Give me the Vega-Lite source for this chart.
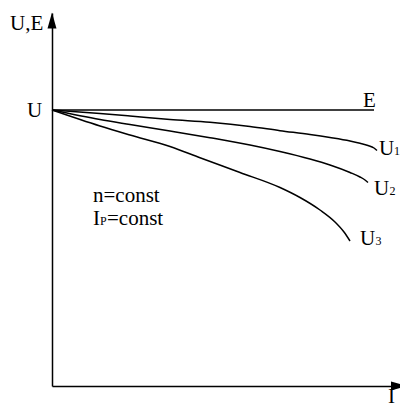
{
  "$schema": "https://vega.github.io/schema/vega-lite/v6.json",
  "width": 348,
  "height": 373,
  "autosize": "none",
  "padding": {"left": 52, "top": 13, "right": 0, "bottom": 23},
  "background": "white",
  "config": {"view": {"stroke": null}, "font": "Liberation Serif, Times New Roman, serif", "text": {"font": "Liberation Serif, Times New Roman, serif"}},
  "datasets": {
    "curves": [
      {"series": "E", "I": 0, "V": 276}, {"series": "E", "I": 322, "V": 276},
      {"series": "U1", "I": 0, "V": 276}, {"series": "U1", "I": 48, "V": 272.5}, {"series": "U1", "I": 78, "V": 270}, {"series": "U1", "I": 118, "V": 266.5}, {"series": "U1", "I": 158, "V": 263.7}, {"series": "U1", "I": 198, "V": 259.5}, {"series": "U1", "I": 228, "V": 255.3}, {"series": "U1", "I": 258, "V": 251.5}, {"series": "U1", "I": 278, "V": 248.5}, {"series": "U1", "I": 298, "V": 245}, {"series": "U1", "I": 308, "V": 242.7}, {"series": "U1", "I": 316, "V": 240.5}, {"series": "U1", "I": 322, "V": 238}, {"series": "U1", "I": 325, "V": 235.5},
      {"series": "U2", "I": 0, "V": 276}, {"series": "U2", "I": 48, "V": 266.5}, {"series": "U2", "I": 78, "V": 261.5}, {"series": "U2", "I": 118, "V": 255}, {"series": "U2", "I": 158, "V": 248.3}, {"series": "U2", "I": 198, "V": 241}, {"series": "U2", "I": 228, "V": 234.5}, {"series": "U2", "I": 258, "V": 227}, {"series": "U2", "I": 278, "V": 221}, {"series": "U2", "I": 298, "V": 213.5}, {"series": "U2", "I": 308, "V": 209}, {"series": "U2", "I": 313, "V": 206}, {"series": "U2", "I": 316, "V": 203.5},
      {"series": "U3", "I": 0, "V": 276}, {"series": "U3", "I": 48, "V": 260}, {"series": "U3", "I": 78, "V": 251}, {"series": "U3", "I": 118, "V": 239.5}, {"series": "U3", "I": 148, "V": 228.3}, {"series": "U3", "I": 188, "V": 213.5}, {"series": "U3", "I": 228, "V": 198.5}, {"series": "U3", "I": 248, "V": 188.5}, {"series": "U3", "I": 268, "V": 176}, {"series": "U3", "I": 283, "V": 164}, {"series": "U3", "I": 292, "V": 154}, {"series": "U3", "I": 298, "V": 145}
    ],
    "arrows": [
      {"dir": "up", "I": 0, "V": 365.5},
      {"dir": "right", "I": 347, "V": 0}
    ],
    "labels": [
      {"text": "U,E", "I": -42, "V": 356},
      {"text": "U", "I": -25, "V": 269},
      {"text": "E", "I": 311, "V": 279},
      {"text": "U", "I": 327, "V": 231},
      {"text": "U", "I": 322, "V": 191},
      {"text": "U", "I": 308, "V": 141},
      {"text": "n=const", "I": 41, "V": 184},
      {"text": "I", "I": 41, "V": 161},
      {"text": "=const", "I": 55, "V": 161},
      {"text": "I", "I": 336, "V": -17}
    ],
    "subs": [
      {"text": "1", "I": 342, "V": 231},
      {"text": "2", "I": 337.5, "V": 191},
      {"text": "3", "I": 323.5, "V": 141},
      {"text": "P", "I": 48, "V": 161}
    ]
  },
  "layer": [
    {
      "data": {"name": "curves"},
      "mark": {"type": "line", "interpolate": "monotone", "color": "black", "strokeWidth": 1.5},
      "encoding": {
        "x": {"field": "I", "type": "quantitative", "scale": {"domain": [0, 348], "nice": false, "zero": false},
              "axis": {"title": null, "labels": false, "ticks": false, "grid": false, "domainColor": "black", "domainWidth": 1.5}},
        "y": {"field": "V", "type": "quantitative", "scale": {"domain": [0, 373], "nice": false, "zero": false},
              "axis": {"title": null, "labels": false, "ticks": false, "grid": false, "domainColor": "black", "domainWidth": 1.5}},
        "detail": {"field": "series", "type": "nominal"}
      }
    },
    {
      "data": {"name": "arrows"},
      "mark": {"type": "point", "filled": true, "color": "black", "opacity": 1, "size": 256, "strokeWidth": 0},
      "encoding": {
        "x": {"field": "I", "type": "quantitative"},
        "y": {"field": "V", "type": "quantitative"},
        "shape": {"field": "dir", "type": "nominal", "legend": null,
                  "scale": {"domain": ["up", "right"], "range": ["M0,-1L0.56,1L-0.56,1Z", "M1,0L-1,-0.56L-1,0.56Z"]}}
      }
    },
    {
      "data": {"name": "labels"},
      "mark": {"type": "text", "align": "left", "baseline": "alphabetic", "fontSize": 21, "font": "Liberation Serif, Times New Roman, serif", "color": "black"},
      "encoding": {
        "x": {"field": "I", "type": "quantitative"},
        "y": {"field": "V", "type": "quantitative"},
        "text": {"field": "text"}
      }
    },
    {
      "data": {"name": "subs"},
      "mark": {"type": "text", "align": "left", "baseline": "alphabetic", "fontSize": 12, "font": "Liberation Serif, Times New Roman, serif", "color": "black"},
      "encoding": {
        "x": {"field": "I", "type": "quantitative"},
        "y": {"field": "V", "type": "quantitative"},
        "text": {"field": "text"}
      }
    }
  ]
}
